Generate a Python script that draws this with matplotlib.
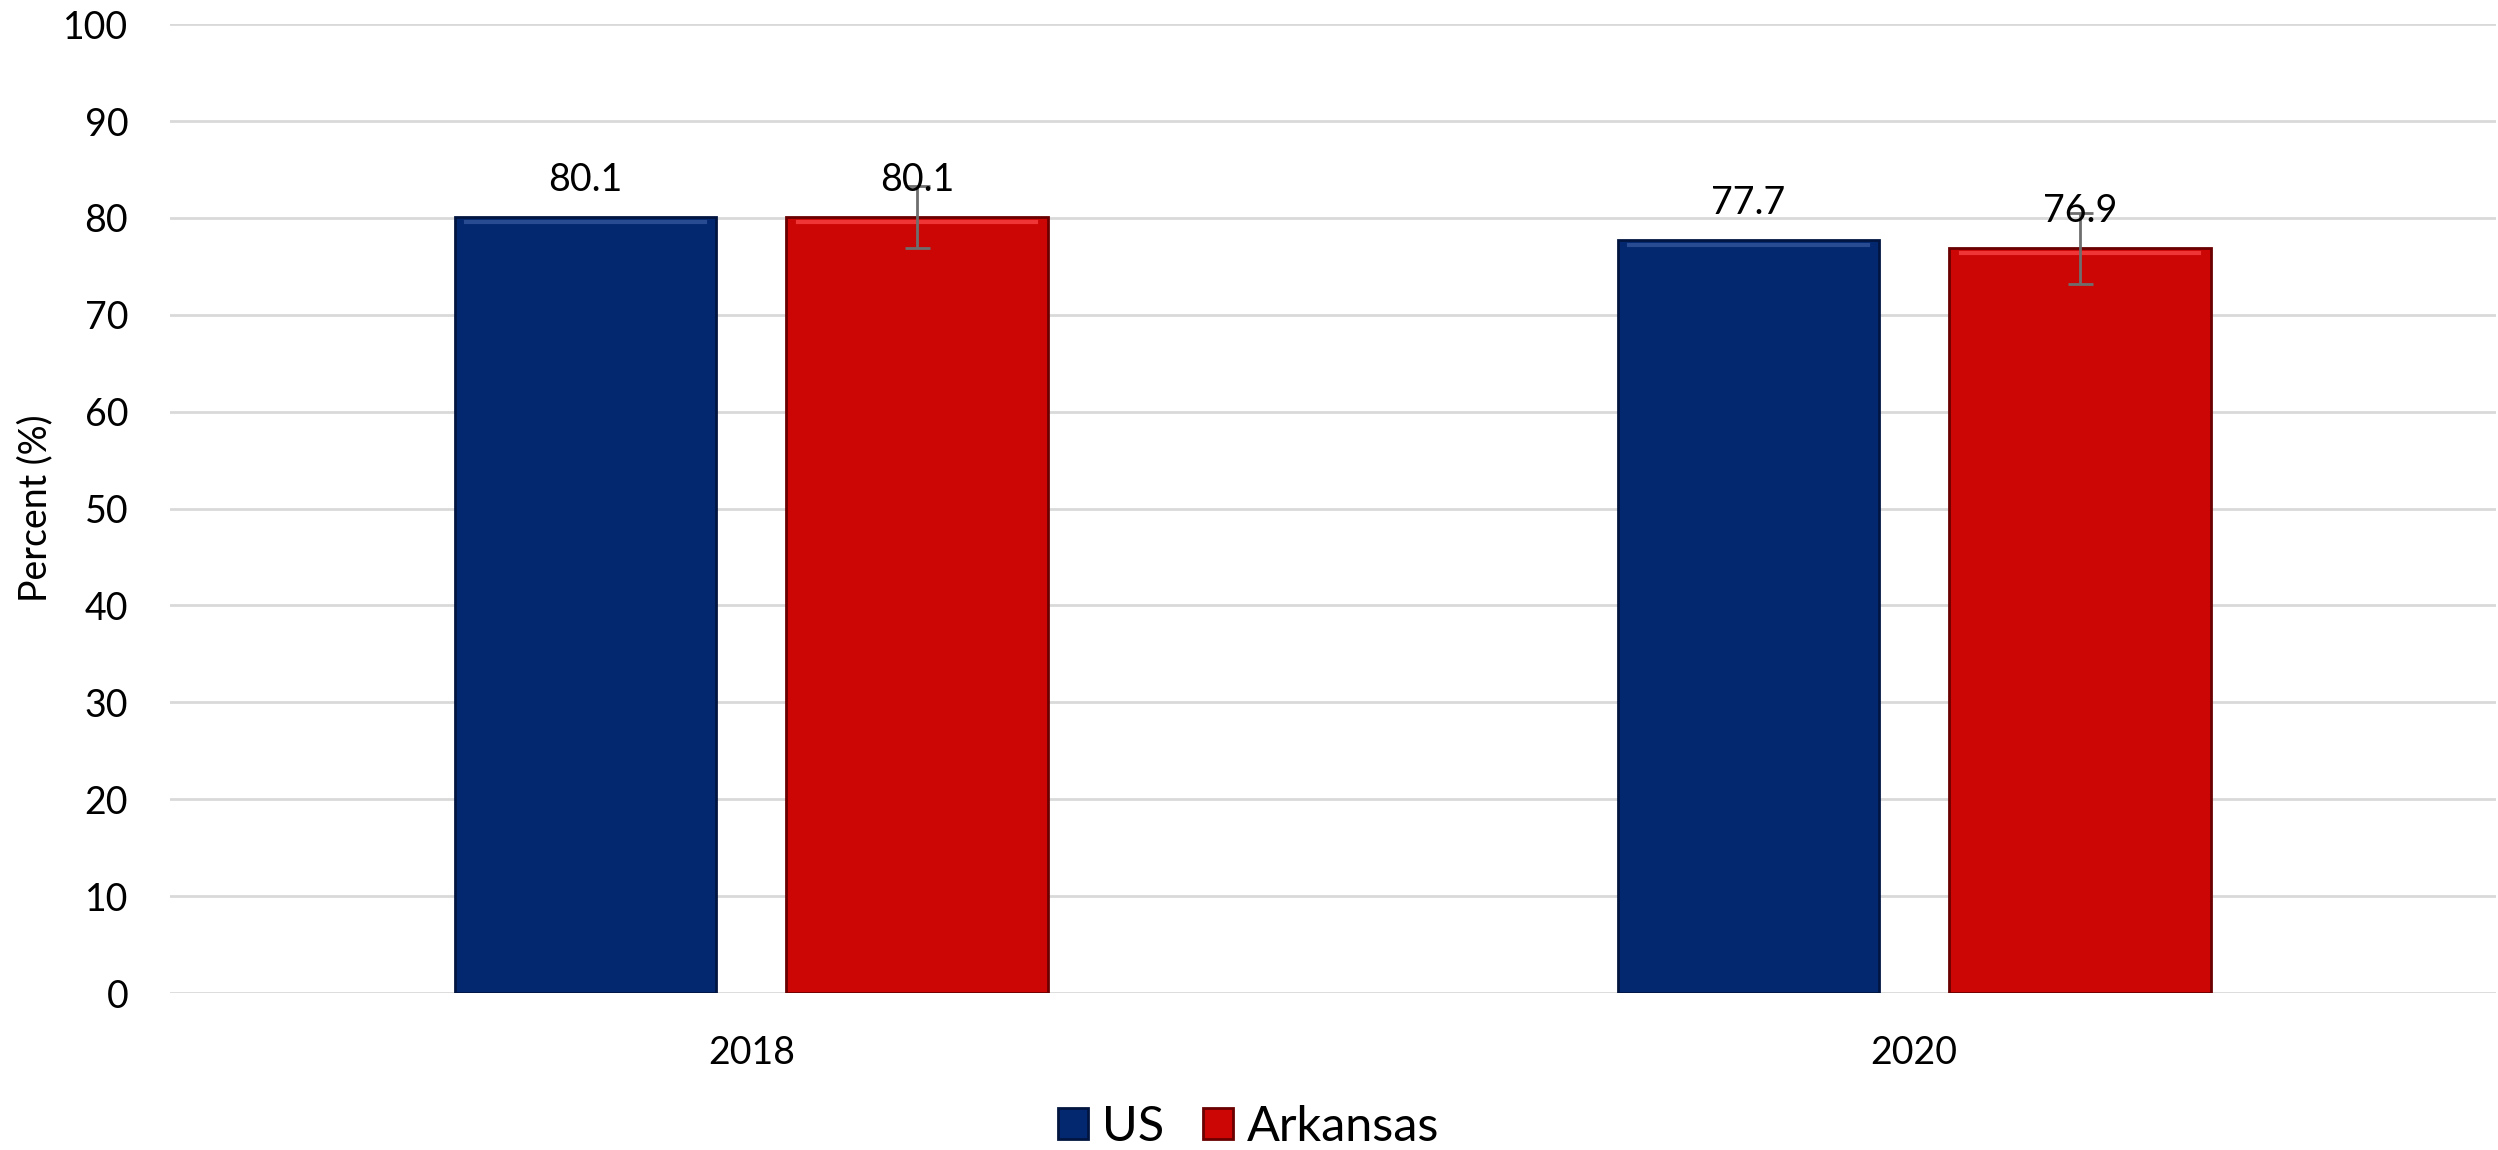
import matplotlib
matplotlib.use("Agg")
import matplotlib.pyplot as plt
import numpy as np

plt.rcParams['font.family'] = ['Lato', 'DejaVu Sans']

years = ["2018", "2020"]
us = [80.1, 77.7]
arkansas = [80.1, 76.9]
# confidence interval for Arkansas (lower, upper)
ark_low = [76.9, 73.2]
ark_high = [83.3, 80.5]

fig = plt.figure(figsize=(24.98, 11.5), dpi=100)
ax = fig.add_axes([0.068, 0.1365, 0.931, 0.8425])

x = np.arange(len(years))
w = 0.225
off = 0.1425

b1 = ax.bar(x - off, us, w, color="#032870", edgecolor="#011540", linewidth=2, label="US", zorder=3)
b2 = ax.bar(x + off, arkansas, w, color="#cc0505", edgecolor="#6a0000", linewidth=2, label="Arkansas", zorder=3)

# light bevel line near the top of each bar
for bars, c in ((b1, "#3a5aa0"), (b2, "#ff4a4a")):
    for r in bars:
        ax.plot([r.get_x() + 0.01, r.get_x() + r.get_width() - 0.01],
                [r.get_height() - 0.5, r.get_height() - 0.5],
                color=c, lw=3, alpha=0.7, zorder=4)

err = [np.array(arkansas) - np.array(ark_low), np.array(ark_high) - np.array(arkansas)]
ax.errorbar(x + off, arkansas, yerr=err, fmt="none", ecolor="#6e6e6e", elinewidth=2,
            capsize=9, capthick=2, zorder=5)

for xi, v in zip(x - off, us):
    ax.annotate(f"{v}", (xi, v), xytext=(0, 14), textcoords="offset points",
                ha="center", va="bottom", fontsize=27, zorder=6)
for xi, v in zip(x + off, arkansas):
    ax.annotate(f"{v}", (xi, v), xytext=(0, 14), textcoords="offset points",
                ha="center", va="bottom", fontsize=27, zorder=6)

ax.set_xlim(-0.5, 1.5)
ax.set_ylim(0, 100)
ax.set_yticks(range(0, 101, 10))
ax.set_xticks(x)
ax.set_xticklabels(years)
ax.tick_params(axis="both", length=0, labelsize=27)
ax.tick_params(axis="y", pad=30)
ax.tick_params(axis="x", pad=30)
ax.grid(axis="y", color="#d9d9d9", linewidth=2, zorder=0)
for s in ax.spines.values():
    s.set_visible(False)
ax.set_ylabel("Percent (%)", fontsize=27)
ax.yaxis.set_label_coords(-0.05, 0.5)

fig.legend(handles=[b1, b2], labels=["US", "Arkansas"], loc="center",
           bbox_to_anchor=(0.5, 0.02), ncol=2, frameon=False,
           fontsize=35, handlelength=0.6, handleheight=0.6, handletextpad=0.3, columnspacing=0.8)

fig.savefig("out.png", dpi=100)
